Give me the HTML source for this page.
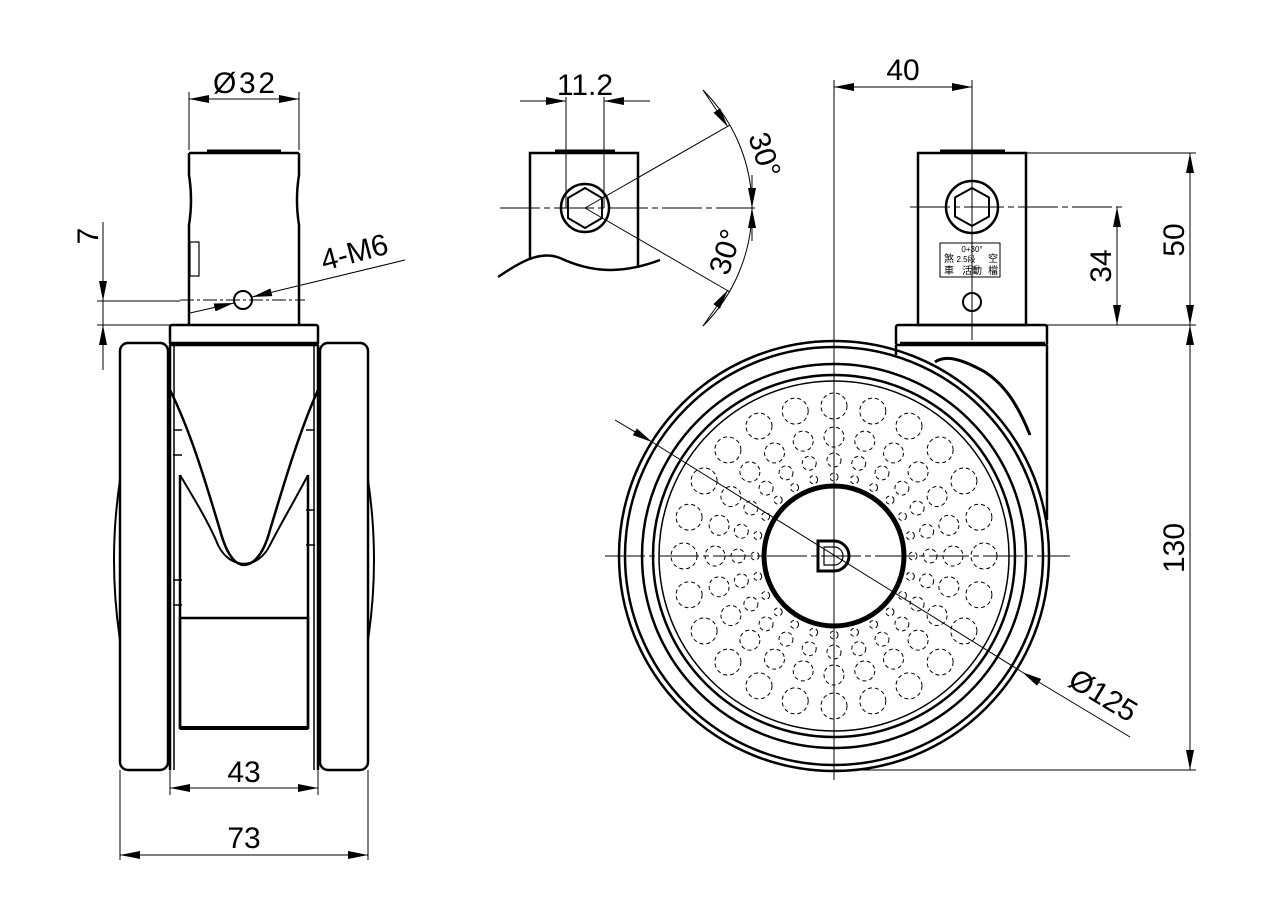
<!DOCTYPE html>
<html><head><meta charset="utf-8"><style>
html,body{margin:0;padding:0;background:#fff;}
svg{display:block}
text{font-family:"Liberation Sans","Noto Sans CJK SC",sans-serif;fill:#000}
.d{font-size:30px}
</style></head><body>
<svg id="s" width="1272" height="920" viewBox="0 0 1272 920" xmlns="http://www.w3.org/2000/svg">
<defs>
<marker id="a" viewBox="0 0 20 8" refX="20" refY="4" markerWidth="20" markerHeight="8" markerUnits="userSpaceOnUse" orient="auto-start-reverse"><path d="M0,0 L20,4 L0,8z" fill="#000"/></marker>
</defs>
<g fill="none" stroke="#000">
<!-- ============ LEFT VIEW ============ -->
<g stroke-width="1">
<line x1="189" y1="92" x2="189" y2="150"/><line x1="299" y1="92" x2="299" y2="150"/>
<line x1="189" y1="99" x2="299" y2="99" marker-start="url(#a)" marker-end="url(#a)"/>
<line x1="103" y1="222" x2="103" y2="301" marker-end="url(#a)"/>
<line x1="103" y1="370" x2="103" y2="325" marker-end="url(#a)"/>
<line x1="103" y1="301" x2="103" y2="325"/>
<line x1="97" y1="301" x2="180" y2="301"/><line x1="97" y1="325" x2="170" y2="325"/>
<line x1="180" y1="300" x2="305" y2="300" stroke-dasharray="14,3,3,3"/>
<line x1="190" y1="313" x2="234" y2="303" marker-end="url(#a)"/>
<line x1="405" y1="260" x2="252" y2="297" marker-end="url(#a)"/>
<line x1="170" y1="760" x2="170" y2="795"/><line x1="318" y1="760" x2="318" y2="795"/>
<line x1="170" y1="788" x2="318" y2="788" marker-start="url(#a)" marker-end="url(#a)"/>
<line x1="120" y1="770" x2="120" y2="860"/><line x1="368" y1="770" x2="368" y2="860"/>
<line x1="120" y1="855" x2="368" y2="855" marker-start="url(#a)" marker-end="url(#a)"/>
</g>
<g stroke-width="2.5">
<path d="M189,153 L189,175 Q193,200 189,225 L189,325 M299,153 L299,175 Q295,200 299,225 L299,325"/>
<line x1="189" y1="153" x2="299" y2="153"/>
<line x1="207" y1="151" x2="281" y2="151" stroke-width="3"/>
<rect x="170" y="325" width="148" height="20" rx="2"/>
<line x1="171" y1="343" x2="317" y2="343"/>
<rect x="120" y="343" width="48" height="427" rx="8"/>
<rect x="320" y="343" width="48" height="427" rx="8"/>
<line x1="170" y1="345" x2="170" y2="770"/><line x1="318" y1="345" x2="318" y2="770"/>
<line x1="174" y1="345" x2="174" y2="770" stroke-width="1.5"/><line x1="314" y1="345" x2="314" y2="770" stroke-width="1.5"/>
<rect x="180" y="618" width="128" height="110"/>
<line x1="180" y1="728" x2="308" y2="728" stroke-width="4"/>
<line x1="180" y1="475" x2="180" y2="728"/><line x1="308" y1="475" x2="308" y2="728"/>
<path d="M170,390 C190,430 205,480 220,530 C228,560 238,565 244,565 C250,565 262,560 270,530 C285,480 300,430 318,390"/>
<path d="M180,475 C195,500 210,525 218,545 C230,570 258,570 270,545 C280,525 295,500 308,475" stroke-width="2"/>
<path d="M120,480 Q108,560 120,640 M368,480 Q380,560 368,640" stroke-width="2"/>
</g>
<rect x="190" y="242" width="9" height="34" stroke-width="1.2"/>
<circle cx="243" cy="300" r="9" stroke-width="2"/>
<g stroke-width="1.5">
<line x1="173" y1="430" x2="182" y2="430"/><line x1="173" y1="455" x2="182" y2="455"/><line x1="173" y1="580" x2="182" y2="580"/><line x1="173" y1="605" x2="182" y2="605"/>
<line x1="306" y1="430" x2="315" y2="430"/><line x1="306" y1="510" x2="315" y2="510"/><line x1="306" y1="545" x2="315" y2="545"/>
</g>

<!-- ============ MIDDLE DETAIL ============ -->
<g stroke-width="1">
<line x1="566" y1="97" x2="566" y2="208"/><line x1="604" y1="97" x2="604" y2="208"/>
<line x1="520" y1="101" x2="566" y2="101" marker-end="url(#a)"/>
<line x1="650" y1="101" x2="604" y2="101" marker-end="url(#a)"/>
<line x1="500" y1="208" x2="755" y2="208" stroke-dasharray="40,4,6,4"/>
<line x1="585" y1="208" x2="730" y2="125"/><line x1="585" y1="208" x2="730" y2="292"/>
<path d="M703,90 A167,167 0 0 1 752,208 A167,167 0 0 1 703,326"/>
<line x1="703" y1="90" x2="728" y2="127" marker-end="url(#a)"/>
<line x1="752" y1="175" x2="752" y2="208" marker-end="url(#a)"/>
<line x1="752" y1="241" x2="752" y2="208" marker-end="url(#a)"/>
<line x1="703" y1="326" x2="728" y2="290" marker-end="url(#a)"/>
</g>
<g stroke-width="2.5">
<path d="M530,260 L530,153 L638,153 L638,268"/>
<line x1="555" y1="151" x2="615" y2="151" stroke-width="3"/>
<path d="M498,277 C520,262 540,250 560,258 C590,272 620,275 660,260"/>
<circle cx="585" cy="208" r="24"/>
<polygon points="585,188 602,198 602,218 585,228 568,218 568,198" stroke-width="2"/>
</g>

<!-- ============ RIGHT VIEW ============ -->
<g stroke-width="1">
<line x1="834" y1="80" x2="834" y2="780"/>
<line x1="972" y1="80" x2="972" y2="340"/>
<line x1="834" y1="87" x2="972" y2="87" marker-start="url(#a)" marker-end="url(#a)"/>
<line x1="1026" y1="153" x2="1196" y2="153"/>
<line x1="910" y1="207" x2="1122" y2="207" stroke-dasharray="40,4,6,4"/>
<line x1="1047" y1="325" x2="1196" y2="325"/>
<line x1="834" y1="770" x2="1196" y2="770"/>
<line x1="1190" y1="153" x2="1190" y2="325" marker-start="url(#a)" marker-end="url(#a)"/>
<line x1="1190" y1="325" x2="1190" y2="770" marker-start="url(#a)" marker-end="url(#a)"/>
<line x1="1117" y1="207" x2="1117" y2="325" marker-start="url(#a)" marker-end="url(#a)"/>
<line x1="605" y1="556" x2="1070" y2="556" stroke-dasharray="40,4,6,4"/>
<line x1="615" y1="420" x2="652" y2="442" marker-end="url(#a)"/>
<line x1="1130" y1="737" x2="1022" y2="672" marker-end="url(#a)"/>
<line x1="652" y1="442" x2="1022" y2="672"/>
</g>
<g stroke-width="2.5">
<rect x="918" y="153" width="108" height="172"/>
<line x1="940" y1="151" x2="1005" y2="151" stroke-width="3"/>
<rect x="896" y="325" width="151" height="20" rx="2"/>
<line x1="900" y1="343" x2="1045" y2="343"/>
<path d="M1047,345 L1047,520"/>
<path d="M896,345 L896,355"/>
<circle cx="972" cy="207" r="26"/>
<polygon points="972,188 989,197.5 989,216.5 972,226 955,216.5 955,197.5" stroke-width="2"/>
<circle cx="972" cy="302" r="9" stroke-width="2"/>
<path d="M935,362 C945,355 960,358 985,372 C1005,385 1018,405 1030,435" stroke-width="3"/>
<circle cx="834" cy="556" r="215"/>
<circle cx="834" cy="556" r="209"/>
<circle cx="834" cy="556" r="192"/>
<circle cx="834" cy="556" r="181"/>
<circle cx="834" cy="556" r="175" stroke-width="1.5"/>
<circle cx="834" cy="556" r="70" stroke-width="5"/>
<path d="M818,541 L834,541 A15,15 0 0 1 834,571 L818,571 Z" stroke-width="3"/>
<path d="M824,547 L834,547 A9,9 0 0 1 834,565 L824,565 Z" stroke-width="1.2"/>
</g>
<rect x="940" y="243" width="60" height="34" stroke-width="1"/>
<g id="holes" stroke-width="1" stroke-dasharray="4,3"></g>
</g>
<g>
<text class="d" x="244" y="93" text-anchor="middle" textLength="62">Ø32</text>
<text class="d" transform="translate(98,236) rotate(-90)" text-anchor="middle">7</text>
<text class="d" transform="translate(357,262) rotate(-15)" text-anchor="middle">4-M6</text>
<text class="d" x="244" y="782" text-anchor="middle">43</text>
<text class="d" x="244" y="848" text-anchor="middle">73</text>
<text class="d" x="585" y="95" text-anchor="middle">11.2</text>
<text class="d" transform="translate(755,158) rotate(72)" text-anchor="middle">30°</text>
<text class="d" transform="translate(735,255) rotate(-72)" text-anchor="middle">30°</text>
<text class="d" x="903" y="80" text-anchor="middle">40</text>
<text class="d" transform="translate(1184,240) rotate(-90)" text-anchor="middle">50</text>
<text class="d" transform="translate(1184,548) rotate(-90)" text-anchor="middle">130</text>
<text class="d" transform="translate(1111,266) rotate(-90)" text-anchor="middle">34</text>
<text class="d" transform="translate(1098,704) rotate(31)" text-anchor="middle">Ø125</text>
<text x="972" y="252" font-size="8" text-anchor="middle">0+30°</text>
<text x="949" y="262" font-size="10" text-anchor="middle">煞</text>
<text x="949" y="274" font-size="10" text-anchor="middle">車</text>
<text x="993" y="262" font-size="10" text-anchor="middle">空</text>
<text x="993" y="274" font-size="10" text-anchor="middle">檔</text>
<text x="972" y="274" font-size="10" text-anchor="middle">活動</text>
<text x="966" y="262" font-size="8" text-anchor="middle">2.5段</text>
</g>
</svg>
<script>
var g=document.getElementById('holes'),ns='http://www.w3.org/2000/svg';
var rings=[[150,13,0],[119,10,0],[96,7,0],[79,4,0]];
rings.forEach(function(r){for(var i=0;i<24;i++){var a=(i*15+r[2])*Math.PI/180;
var c=document.createElementNS(ns,'circle');c.setAttribute('cx',(834+r[0]*Math.sin(a)).toFixed(1));
c.setAttribute('cy',(556-r[0]*Math.cos(a)).toFixed(1));c.setAttribute('r',r[1]);g.appendChild(c);}});
</script>
</body></html>
